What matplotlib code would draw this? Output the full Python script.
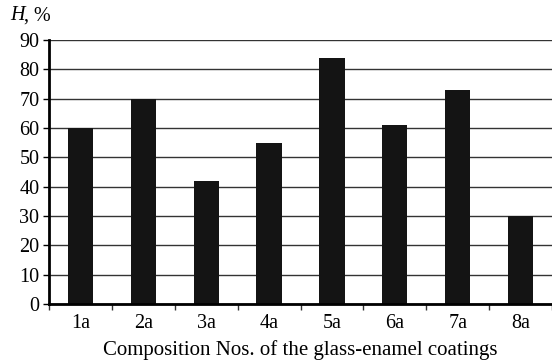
import matplotlib.pyplot as plt
import numpy as np

categories = ['1a', '2a', '3a', '4a', '5a', '6a', '7a', '8a']
values = [60, 70, 42, 55, 84, 61, 73, 30]
y_ticks = [0, 10, 20, 30, 40, 50, 60, 70, 80, 90]

plt.rcParams['font.family'] = ['Liberation Serif', 'DejaVu Serif']

fig = plt.figure(figsize=(5.52, 3.6), dpi=100)
ax = fig.add_axes([49 / 552, 1 - 304 / 360, 1 - 49 / 552, (304 - 40) / 360])

x = np.arange(len(categories))
ax.bar(x, values, width=0.4, color='#141414', zorder=3)

ax.set_xlim(-0.5, len(categories) - 0.5)
ax.set_ylim(0, 90)
ax.set_yticks(y_ticks)
ax.set_yticklabels([str(t) for t in y_ticks], fontsize=14.5)
ax.set_xticks(x)
ax.set_xticklabels(categories, fontsize=14.5)
ax.tick_params(axis='x', length=0, pad=7)
ax.set_xticks(np.arange(len(categories) + 1) - 0.5, minor=True)
ax.tick_params(axis='x', which='minor', length=4, width=1, color='#333333')
ax.tick_params(axis='y', length=4, width=1, pad=3)

ax.grid(axis='y', color='#333333', linewidth=1, zorder=0)
for s in ['top', 'right']:
    ax.spines[s].set_visible(False)
ax.spines['left'].set_linewidth(2)
ax.spines['bottom'].set_linewidth(2)
ax.spines['left'].set_zorder(4)
ax.spines['bottom'].set_zorder(4)

ax.set_xlabel('Composition Nos. of the glass-enamel coatings', fontsize=15, labelpad=5)
fig.text(10 / 552, 1 - 16 / 360, 'H', fontsize=14.5, style='italic', va='center', ha='left')
fig.text(24 / 552, 1 - 16 / 360, ', %', fontsize=14.5, va='center', ha='left')

fig.savefig('out.png', dpi=100)
